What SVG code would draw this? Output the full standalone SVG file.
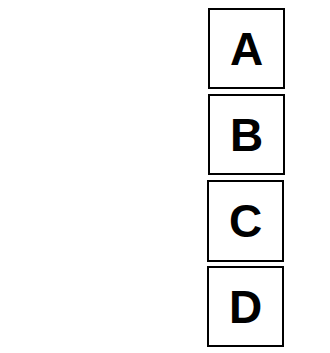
<svg xmlns="http://www.w3.org/2000/svg" width="330" height="353" viewBox="0 0 330 353">
<style>
.box{fill:#fff;stroke:#000;stroke-width:2}
.lbl{font-family:"Liberation Sans",Arial,sans-serif;font-weight:bold;font-size:46px;text-anchor:middle;fill:#000}
</style>
<rect width="330" height="353" fill="#fff"/>
<g id="connectors"></g>
<g id="nodeA"><rect class="box" x="209" y="9" width="75" height="79"/><text class="lbl" x="246.5" y="65">A</text></g>
<g id="nodeB"><rect class="box" x="209" y="95" width="75" height="79"/><text class="lbl" x="246.5" y="151">B</text></g>
<g id="nodeC"><rect class="box" x="208" y="181" width="75" height="80"/><text class="lbl" x="245.5" y="237">C</text></g>
<g id="nodeD"><rect class="box" x="208" y="267" width="75" height="79"/><text class="lbl" x="245.5" y="323">D</text></g>
</svg>
